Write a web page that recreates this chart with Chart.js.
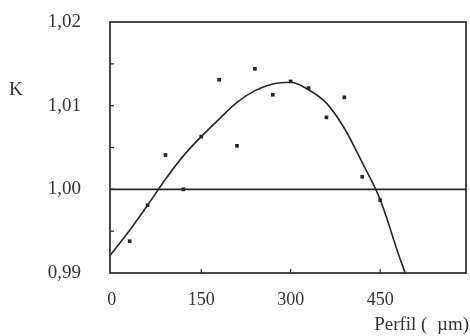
<!DOCTYPE html>
<html>
<head>
<meta charset="utf-8">
<script src="https://cdn.jsdelivr.net/npm/chart.js@4.4.1/dist/chart.umd.min.js"></script>
<style>
  html, body { margin: 0; padding: 0; background: #fff; }
  canvas { display: block; }
</style>
</head>
<body>
<canvas id="kChart" width="470" height="336"></canvas>
<script>
// medidas de K ao longo do perfil
var perfil = [30, 60, 90, 120, 150, 180, 210, 240, 270, 300, 330, 360, 390, 420, 450];
var kMedido = [0.9938, 0.9981, 1.0041, 1.0000, 1.0063, 1.0131, 1.0052, 1.0144, 1.0113, 1.0129, 1.0121, 1.0086, 1.0110, 1.0015, 0.9987];

// curva ajustada
var ajusteX = [-3, 30, 60, 90, 120, 150, 180, 210, 240, 270, 300, 330, 360, 390, 420, 450, 480, 492];
var ajusteK = [0.9921, 0.9951, 0.9981, 1.0012, 1.0040, 1.0063, 1.0084, 1.0104, 1.0118, 1.0126, 1.0128, 1.0119, 1.0103, 1.0073, 1.0032, 0.9988, 0.9924, 0.9900];

var xTicks = [0, 150, 300, 450];
var yTicks = [0.99, 1.00, 1.01, 1.02];
var yMarcas = [0.995, 1.00, 1.005, 1.01, 1.015];
var xMarcas = [150, 300, 450];
var nivelRef = 1.00;

var tinta = '#262626';
var fonte = '"Liberation Serif", "DejaVu Serif", serif';

var pontos = perfil.map(function(x, i) { return { x: x, y: kMedido[i] }; });
var curva = ajusteX.map(function(x, i) { return { x: x, y: ajusteK[i] }; });

// moldura, linha de referência, marcas internas e rótulos
var molduraPlugin = {
    id: 'moldura',
    afterDatasetsDraw: function(chart) {
        var ctx = chart.ctx;
        var a = chart.chartArea;
        var sx = chart.scales.x, sy = chart.scales.y;
        ctx.save();
        ctx.strokeStyle = tinta;
        ctx.lineWidth = 1.7;

        var yr = sy.getPixelForValue(nivelRef);
        ctx.beginPath();
        ctx.moveTo(a.left, yr);
        ctx.lineTo(a.right, yr);
        ctx.stroke();

        ctx.strokeRect(a.left, a.top, a.right - a.left, a.bottom - a.top);

        ctx.lineWidth = 1.2;
        yMarcas.forEach(function(v) {
            var py = sy.getPixelForValue(v);
            ctx.beginPath();
            ctx.moveTo(a.left, py);
            ctx.lineTo(a.left + 4, py);
            ctx.stroke();
        });
        xMarcas.forEach(function(v) {
            var px = sx.getPixelForValue(v);
            ctx.beginPath();
            ctx.moveTo(px, a.bottom);
            ctx.lineTo(px, a.bottom - 4);
            ctx.stroke();
        });

        ctx.fillStyle = '#333';
        ctx.font = '19px ' + fonte;
        ctx.textBaseline = 'middle';
        ctx.textAlign = 'left';
        ctx.fillText('K', 9, 90);
        ctx.textAlign = 'right';
        ctx.fillText('Perfil (  \u00b5m)', 469, 325);
        ctx.restore();
    }
};

new Chart(document.getElementById('kChart'), {
    type: 'scatter',
    data: {
        datasets: [
            {
                label: 'ajuste',
                type: 'line',
                data: curva,
                borderColor: tinta,
                borderWidth: 1.6,
                pointRadius: 0,
                fill: false,
                cubicInterpolationMode: 'monotone'
            },
            {
                label: 'K',
                data: pontos,
                pointStyle: 'rect',
                pointRadius: 2.6,
                backgroundColor: tinta,
                borderColor: tinta,
                borderWidth: 0
            }
        ]
    },
    options: {
        responsive: false,
        animation: false,
        devicePixelRatio: 1,
        layout: { padding: { top: 22, right: 0, left: 0, bottom: 0 } },
        plugins: {
            legend: { display: false },
            tooltip: { enabled: false }
        },
        scales: {
            x: {
                type: 'linear',
                min: -3,
                max: 594,
                afterFit: function(s) { s.height = 63; s.paddingLeft = 0; s.paddingRight = 0; },
                afterBuildTicks: function(s) { s.ticks = xTicks.map(function(v) { return { value: v }; }); },
                grid: { display: false },
                border: { display: false },
                ticks: {
                    padding: 8,
                    color: '#333',
                    autoSkip: false,
                    maxRotation: 0,
                    font: { family: fonte, size: 18 },
                    callback: function(v) { return String(v); }
                }
            },
            y: {
                min: 0.99,
                max: 1.02,
                afterFit: function(s) { s.width = 110; s.paddingTop = 0; s.paddingBottom = 0; },
                afterBuildTicks: function(s) { s.ticks = yTicks.map(function(v) { return { value: v }; }); },
                grid: { display: false },
                border: { display: false },
                ticks: {
                    padding: 21,
                    color: '#333',
                    autoSkip: false,
                    font: { family: fonte, size: 19 },
                    callback: function(v) { return v.toFixed(2).replace('.', ','); }
                }
            }
        }
    },
    plugins: [molduraPlugin]
});
</script>
</body>
</html>
